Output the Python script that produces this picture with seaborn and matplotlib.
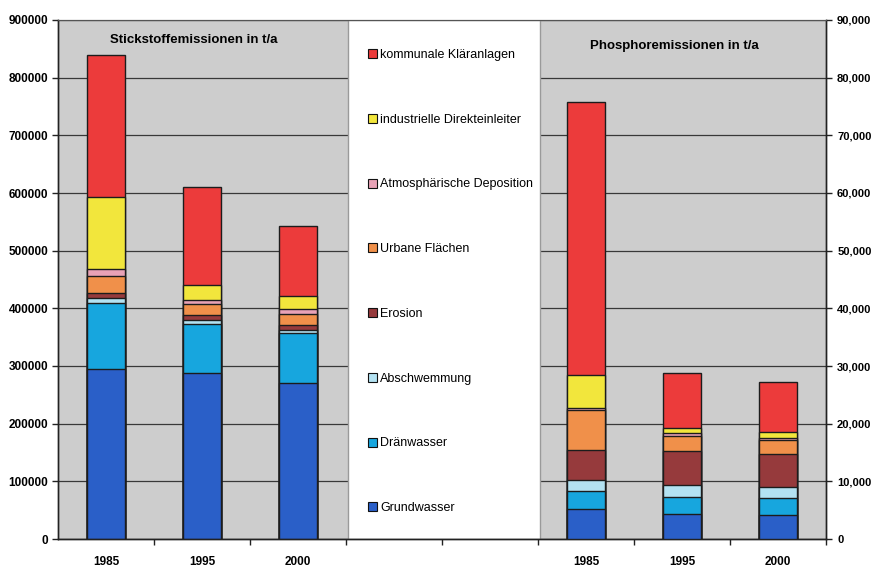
import numpy as np
import pandas as pd
import matplotlib
matplotlib.use("Agg")
import matplotlib.pyplot as plt
from matplotlib.patches import Patch, Rectangle
from matplotlib.ticker import FuncFormatter, MultipleLocator
import seaborn as sns

# Emission sources, stacked from bottom to top
sources = [
    "Grundwasser",
    "Dränwasser",
    "Abschwemmung",
    "Erosion",
    "Urbane Flächen",
    "Atmosphärische Deposition",
    "industrielle Direkteinleiter",
    "kommunale Kläranlagen",
]
colors = [
    "#2A5FC8",  # Grundwasser
    "#17A6DE",  # Dränwasser
    "#B3E2F2",  # Abschwemmung
    "#963A3C",  # Erosion
    "#F0904A",  # Urbane Flächen
    "#E8A2B6",  # Atmosphärische Deposition
    "#F2E63C",  # industrielle Direkteinleiter
    "#EC3B3B",  # kommunale Kläranlagen
]
years = ["1985", "1995", "2000"]

# Nitrogen emissions in t/a (1985, 1995, 2000)
n_grundwasser = [295000, 288000, 270000]
n_draenwasser = [115000, 84000, 87000]
n_abschwemmung = [8000, 8000, 6000]
n_erosion = [8000, 8000, 8000]
n_urban = [30000, 20000, 20000]
n_atmosphaere = [12000, 7000, 8000]
n_industrie = [125000, 25000, 22000]
n_kommunal = [247000, 170000, 122000]

# Phosphorus emissions in t/a (1985, 1995, 2000)
p_grundwasser = [5200, 4400, 4200]
p_draenwasser = [3100, 2900, 2900]
p_abschwemmung = [1900, 2100, 1900]
p_erosion = [5300, 5800, 5700]
p_urban = [6800, 2700, 2500]
p_atmosphaere = [500, 400, 400]
p_industrie = [5700, 1000, 1000]
p_kommunal = [47300, 9500, 8700]

nitrogen = [n_grundwasser, n_draenwasser, n_abschwemmung, n_erosion,
            n_urban, n_atmosphaere, n_industrie, n_kommunal]
phosphorus = [p_grundwasser, p_draenwasser, p_abschwemmung, p_erosion,
              p_urban, p_atmosphaere, p_industrie, p_kommunal]

n_pos = [0, 1, 2]
p_pos = [5, 6, 7]

plt.rcParams["font.family"] = ["Liberation Sans", "DejaVu Sans"]
plt.rcParams["font.weight"] = "bold"

fig = plt.figure(figsize=(8.74, 5.67), dpi=100)
ax = fig.add_axes([58 / 874, 28 / 567, 768 / 874, 519 / 567])
ax.set_facecolor("#CDCDCD")
ax2 = ax.twinx()


def stacked(axis, positions, series):
    cum = np.cumsum(np.array(series, dtype=float), axis=0)
    # tallest cumulative bar first, each lower total drawn over it
    for i in range(len(sources) - 1, -1, -1):
        df = pd.DataFrame({"pos": positions, "total": cum[i]})
        sns.barplot(data=df, x="pos", y="total", native_scale=True,
                    width=0.4, color=colors[i], saturation=1,
                    edgecolor="#1c1c1c", linewidth=1.0, errorbar=None,
                    ax=axis, zorder=3)


stacked(ax, n_pos, nitrogen)
stacked(ax2, p_pos, phosphorus)

# axes ranges
ax.set_xlim(-0.5, 7.5)
ax.set_ylim(0, 900000)
ax2.set_ylim(0, 90000)
for a in (ax, ax2):
    a.set_xlabel("")
    a.set_ylabel("")

# left axis
ax.yaxis.set_major_locator(MultipleLocator(100000))
ax.yaxis.set_major_formatter(FuncFormatter(lambda v, _: f"{int(v)}"))
ax.tick_params(axis="y", length=4, width=1, pad=3, labelsize=8.5,
               color="#222222")
ax.yaxis.grid(True, color="#383838", linewidth=0.9)
ax.xaxis.grid(False)
ax.set_axisbelow(True)

# right axis
ax2.yaxis.set_major_locator(MultipleLocator(10000))
ax2.yaxis.set_major_formatter(FuncFormatter(lambda v, _: f"{int(v):,}"))
ax2.tick_params(axis="y", length=4, width=1, pad=4, labelsize=8,
                color="#222222")
ax2.grid(False)

# category axis
ax.set_xticks(n_pos + p_pos)
ax.set_xticklabels(years + years)
ax.set_xticks(np.arange(0.5, 8, 1), minor=True)
ax.tick_params(axis="x", which="major", length=0, pad=12, labelsize=8.5)
ax.tick_params(axis="x", which="minor", length=4, width=1,
               color="#222222")

for a in (ax, ax2):
    for side in ("left", "right", "bottom"):
        a.spines[side].set_color("#222222")
        a.spines[side].set_linewidth(1)
    a.spines["top"].set_color("#555555")
    a.spines["top"].set_linewidth(0.8)

# legend panel in the middle of the plot
ax.add_patch(Rectangle((0.3776, 0.0), 0.25, 1.0, transform=ax.transAxes,
                       facecolor="white", edgecolor="#9a9a9a",
                       linewidth=1, zorder=2.5))
handles = [Patch(facecolor=colors[i], edgecolor="#111111", linewidth=0.8)
           for i in range(len(sources) - 1, -1, -1)]
labels = sources[::-1]
ax2.legend(handles, labels, loc="center left",
           bbox_to_anchor=(0.395, 0.496), bbox_transform=ax2.transAxes,
           frameon=False, borderpad=0, labelspacing=4.22,
           handlelength=0.75, handleheight=0.75, handletextpad=0.25,
           prop={"family": "Liberation Sans", "weight": "normal",
                 "size": 9})

# panel titles
ax.text(0.177, 0.961, "Stickstoffemissionen in t/a", transform=ax.transAxes,
        ha="center", va="center", fontsize=9.5, fontweight="bold")
ax.text(0.802, 0.950, "Phosphoremissionen in t/a", transform=ax.transAxes,
        ha="center", va="center", fontsize=9.5, fontweight="bold")

fig.savefig("out.png", dpi=100, facecolor="white")
